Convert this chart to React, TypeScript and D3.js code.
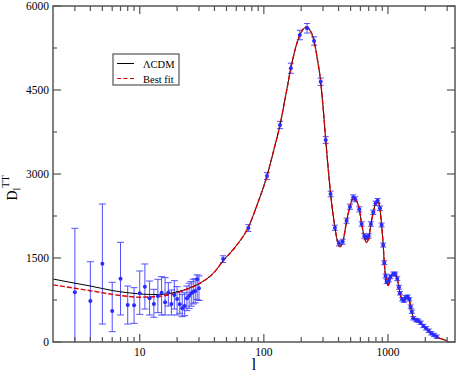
import React from 'react'
import * as d3 from 'd3'

// theory curves (l, D_l)
const lcdmL = [2, 3, 4, 5, 6, 8, 10, 13, 16, 20, 25, 30, 40, 47, 60, 75, 90, 106, 120, 135, 150, 165, 180, 195, 210, 222, 235, 254, 270, 287, 300, 315, 330, 345, 360, 374, 390, 410, 432, 464, 494, 525, 540, 560, 588, 614, 645, 673, 700, 729, 762, 795, 826, 845, 862, 889, 916, 934, 957, 977, 1005, 1048, 1104, 1146, 1189, 1227, 1250, 1304, 1345, 1397, 1441, 1486, 1524, 1559, 1600, 1682, 1755, 1835, 1928, 2027, 2130, 2235, 2348, 2470, 2700, 3000]
const lcdmD = [1125, 1050, 1000, 955, 920, 880, 858, 848, 855, 895, 960, 1040, 1250, 1450, 1720, 2050, 2500, 2964, 3420, 3875, 4400, 4888, 5250, 5482, 5600, 5630, 5570, 5375, 5050, 4650, 4200, 3620, 3100, 2650, 2300, 2040, 1820, 1702, 1780, 2150, 2420, 2580, 2590, 2520, 2370, 2110, 1880, 1775, 1860, 2100, 2320, 2480, 2520, 2480, 2390, 2090, 1730, 1420, 1180, 1070, 1010, 1150, 1220, 1210, 1120, 970, 870, 760, 735, 795, 810, 760, 630, 540, 430, 395, 380, 345, 286, 244, 202, 155, 125, 95, 55, 20]

const fitLowL = [2, 3, 4, 5, 6, 8, 10, 13, 16, 20, 25]
const fitLowD = [1020, 960, 915, 880, 850, 815, 800, 808, 830, 880, 960]

// low-l data points
const lowL = [3, 4, 5, 6, 7, 8, 9, 10, 11, 12, 13, 14, 15, 16, 17, 18, 19, 20, 21, 22, 23, 24, 25, 26, 27, 28, 29, 30]
const lowD = [887, 732, 1399, 554, 1131, 661, 655, 869, 988, 780, 679, 821, 881, 708, 881, 679, 839, 768, 673, 601, 643, 780, 827, 869, 899, 911, 1119, 958]
const lowHi = [2030, 1434, 2464, 1066, 1780, 1000, 970, 1268, 1393, 1089, 941, 1119, 1167, 1149, 1060, 929, 1095, 988, 900, 850, 880, 1000, 1050, 1080, 1120, 1130, 1200, 1180]
const lowLo = [0, 0, 321, 184, 482, 321, 333, 494, 589, 482, 441, 524, 482, 482, 643, 482, 589, 482, 512, 452, 470, 560, 600, 640, 680, 700, 760, 740]

// high-l binned points
const highL = [47, 75, 106, 135, 165, 195, 223, 254, 287, 315, 345, 374, 403, 432, 464, 494, 525, 545, 588, 614, 645, 673, 700, 729, 762, 795, 826, 862, 889, 916, 934, 957, 977, 1018, 1048, 1104, 1146, 1189, 1227, 1250, 1304, 1345, 1397, 1441, 1486, 1524, 1559, 1600, 1682, 1755, 1835, 1928, 2027, 2130, 2235, 2348, 2470]
const highD = [1480, 2035, 2964, 3875, 4888, 5482, 5602, 5375, 4648, 3607, 2643, 2041, 1762, 1791, 2166, 2416, 2583, 2548, 2369, 2107, 1893, 1869, 1893, 2107, 2316, 2476, 2523, 2387, 2089, 1732, 1416, 1179, 1077, 1107, 1166, 1214, 1214, 1130, 977, 870, 762, 738, 798, 810, 762, 631, 542, 423, 393, 381, 345, 286, 244, 202, 155, 125, 95]
const highErr = [60, 60, 60, 65, 90, 85, 85, 75, 65, 60, 50, 45, 45, 45, 45, 45, 45, 45, 45, 40, 40, 40, 40, 40, 40, 40, 40, 40, 35, 35, 35, 35, 35, 35, 35, 35, 35, 35, 35, 30, 30, 30, 30, 30, 30, 30, 30, 30, 30, 30, 30, 30, 30, 30, 30, 30, 30]

const xMajor = [10, 100, 1000]
const xMinor = [3, 4, 5, 6, 7, 8, 9, 20, 30, 40, 50, 60, 70, 80, 90, 200, 300, 400, 500, 600, 700, 800, 900, 2000, 3000]
const yMajor = [0, 1500, 3000, 4500, 6000]
const yMinor = [750, 2250, 3750, 5250]

const W = 457
const H = 374
const left = 53, right = 455, top = 6, bottom = 342

export default function App() {
  const x = d3.scaleLog().domain([2, 3470]).range([left, right])
  const y = d3.scaleLinear().domain([0, 6000]).range([bottom, top])

  const line = d3.line<[number, number]>()
    .x(d => x(d[0]))
    .y(d => y(d[1]))
    .curve(d3.curveMonotoneX)

  const lcdm = lcdmL.map((l, i) => [l, lcdmD[i]] as [number, number])
  const fit = fitLowL.map((l, i) => [l, fitLowD[i]] as [number, number])
    .concat(lcdm.filter(d => d[0] > 25))

  const blue = '#2a2aff'
  const barBlue = '#5050ff'
  const axisCol = '#555'
  const font = '"Liberation Serif", "Times New Roman", serif'

  return (
    <svg width={W} height={H} style={{ position: 'absolute', left: 0, top: 0, background: '#fff' }}>
      {/* error bars */}
      <g stroke={barBlue} strokeWidth={1} fill="none">
        {lowL.map((l, i) => {
          const cx = x(l)
          const c = 3.5
          return (
            <g key={'le' + i}>
              <line x1={cx} x2={cx} y1={y(lowLo[i])} y2={y(lowHi[i])} />
              <line x1={cx - c} x2={cx + c} y1={y(lowHi[i])} y2={y(lowHi[i])} />
              {lowLo[i] > 0 && <line x1={cx - c} x2={cx + c} y1={y(lowLo[i])} y2={y(lowLo[i])} />}
            </g>
          )
        })}
        {highL.map((l, i) => {
          const cx = x(l)
          const c = 3
          const hi = y(highD[i] + highErr[i])
          const lo = y(highD[i] - highErr[i])
          return (
            <g key={'he' + i}>
              <line x1={cx} x2={cx} y1={lo} y2={hi} />
              <line x1={cx - c} x2={cx + c} y1={hi} y2={hi} />
              <line x1={cx - c} x2={cx + c} y1={lo} y2={lo} />
            </g>
          )
        })}
      </g>

      {/* curves */}
      <path d={line(lcdm) || ''} fill="none" stroke="#000" strokeWidth={1} />
      <path d={line(fit) || ''} fill="none" stroke="#e00000" strokeWidth={1.4} strokeDasharray="5,2" />

      {/* points */}
      <g fill={blue}>
        {lowL.map((l, i) => <circle key={'lp' + i} cx={x(l)} cy={y(lowD[i])} r={2} />)}
        {highL.map((l, i) => <circle key={'hp' + i} cx={x(l)} cy={y(highD[i])} r={2} />)}
      </g>

      {/* frame */}
      <rect x={left} y={top} width={right - left} height={bottom - top} fill="none" stroke={axisCol} strokeWidth={1.5} />

      {/* ticks */}
      <g stroke={axisCol} strokeWidth={1.2}>
        {xMajor.map(t => (
          <g key={'xM' + t}>
            <line x1={x(t)} x2={x(t)} y1={bottom} y2={bottom - 8} />
            <line x1={x(t)} x2={x(t)} y1={top} y2={top + 8} />
          </g>
        ))}
        {xMinor.map(t => (
          <g key={'xm' + t}>
            <line x1={x(t)} x2={x(t)} y1={bottom} y2={bottom - 5} />
            <line x1={x(t)} x2={x(t)} y1={top} y2={top + 5} />
          </g>
        ))}
        {yMajor.map(t => (
          <g key={'yM' + t}>
            <line x1={left} x2={left + 8} y1={y(t)} y2={y(t)} />
            <line x1={right} x2={right - 8} y1={y(t)} y2={y(t)} />
          </g>
        ))}
        {yMinor.map(t => (
          <g key={'ym' + t}>
            <line x1={left} x2={left + 4} y1={y(t)} y2={y(t)} />
            <line x1={right} x2={right - 4} y1={y(t)} y2={y(t)} />
          </g>
        ))}
      </g>

      {/* tick labels */}
      <g fontFamily={font} fontSize={11.5} fill="#000">
        {xMajor.map(t => (
          <text key={'xl' + t} x={x(t)} y={356} textAnchor="middle">{t}</text>
        ))}
        {yMajor.map(t => (
          <text key={'yl' + t} x={49} y={y(t)} dy="0.35em" textAnchor="end">{t}</text>
        ))}
      </g>

      {/* axis titles */}
      <text x={254} y={370} fontFamily={font} fontSize={16} textAnchor="middle">l</text>
      <text transform="translate(17,188) rotate(-90)" fontFamily={font} fontSize={14} textAnchor="middle">
        D<tspan fontSize={10} dy={3}>l</tspan><tspan fontSize={10} dy={-11}>TT</tspan>
      </text>

      {/* legend */}
      <rect x={113} y={54} width={66} height={31} fill="#fff" stroke={axisCol} strokeWidth={1.2} />
      <line x1={117} x2={134} y1={63.5} y2={63.5} stroke="#000" strokeWidth={1} />
      <text x={143} y={67.5} fontFamily={font} fontSize={10.5}>ΛCDM</text>
      <line x1={117} x2={134} y1={78.5} y2={78.5} stroke="#e00000" strokeWidth={1.2} strokeDasharray="4,2.5" />
      <text x={143} y={82.5} fontFamily={font} fontSize={10.5}>Best fit</text>
    </svg>
  )
}
